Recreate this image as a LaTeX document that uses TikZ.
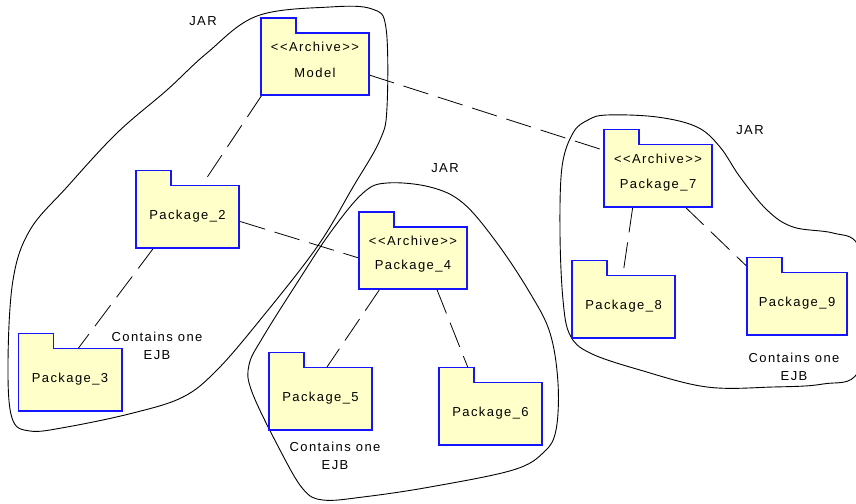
\documentclass[tikz,border=0pt]{standalone}
\usepackage{fontspec}
\setmainfont{Liberation Sans}[Ligatures=TeXOff, LetterSpace=11]
\usetikzlibrary{calc,backgrounds}
\definecolor{pkgfill}{RGB}{255,255,202}
\definecolor{pkgblue}{RGB}{20,20,255}
\tikzset{
  body/.style={draw=none, fill=none, inner sep=0pt, minimum width=#1, minimum height=62pt},
  body/.default=103pt,
  pkgline/.style={draw=pkgblue, fill=pkgfill, line width=1.6pt, line join=miter},
  txt/.style={inner sep=0pt},
  blob/.style={draw=black, line width=0.9pt},
  dep/.style={draw=black, line width=0.8pt, dash pattern=on 26pt off 10pt},
}
\newcommand\folderpath[1]{%
  \draw[pkgline] (#1.south west) -- ($(#1.north west)+(0,-15)$) -- ++(35,0) -- ++(0,15) -- (#1.north east) -- (#1.south east) -- cycle;}
\begin{document}
\begin{tikzpicture}[x=1pt, y=-1pt, font=\fontsize{13}{15}\selectfont]
\useasboundingbox (0,0) rectangle (856,503);
\clip (0,0) rectangle (856,503);

% package bodies
\node[body=108pt] (model) at (315,64) {};
\node[txt] (modela) at (315,47) {<<Archive>>};
\node[txt] (modeln) at (315,73) {Model};
\node[body] (p2) at (187.5,216.5) {Package\_2};
\node[body] (p3) at (70,379.5) {Package\_3};
\node[body=108pt] (p7) at (658,175.5) {};
\node[txt] (p7a) at (658,159) {<<Archive>>};
\node[txt] (p7n) at (658,185) {Package\_7};
\node[body=108pt] (p4) at (413,258) {};
\node[txt] (p4a) at (413,241) {<<Archive>>};
\node[txt] (p4n) at (413,266) {Package\_4};
\node[body] (p5) at (320.5,398.5) {Package\_5};
\node[body] (p6) at (490.5,413.5) {Package\_6};
\node[body] (p8) at (623.5,306.5) {Package\_8};
\node[body=100pt] (p9) at (797,303.5) {Package\_9};

% labels
\node[txt] (jar1) at (203,21) {JAR};
\node[txt] (jar2) at (445,168) {JAR};
\node[txt] (jar3) at (750,130) {JAR};
\node[txt, align=center] (ejb1) at (157,346) {Contains one\\[3pt]EJB};
\node[txt, align=center] (ejb2) at (335,456) {Contains one\\[3pt]EJB};
\node[txt, align=center] (ejb3) at (794,367) {Contains one\\[3pt]EJB};

\begin{pgfonlayer}{background}
% JAR outlines
\draw[blob] plot[smooth cycle, tension=0.6] coordinates {
  (257,16) (330,7) (372,9) (386,28) (387,107) (380,140) (353,187) (317,247)
  (260,320) (217,370) (183,397) (133,413) (67,427) (30,431) (12,418)
  (8,363) (13,280) (30,230) (67,187) (117,133) (167,90) (207,53)};
\draw[blob] plot[smooth cycle, tension=0.6] coordinates {
  (387,183) (430,187) (463,203) (497,243) (530,293) (550,333) (558,383)
  (556,430) (544,452) (513,470) (430,487) (363,497) (323,500) (303,489)
  (280,450) (252,392) (249,365) (263,337) (297,283) (330,233) (363,193)};
\draw[blob] plot[smooth cycle, tension=0.6] coordinates {
  (607,115) (657,117) (697,127) (720,147) (740,177) (767,210) (793,227)
  (833,233) (858,245) (870,300) (858,372) (823,384) (773,387) (707,387)
  (640,370) (590,353) (570,335) (563,300) (560,233) (562,167) (573,133) (588,120)};

% dependencies
\draw[dep] ($(model.south west)+(1,0)$) -- ($(p2.north west)+(66,0)$);
\draw[dep] ($(p2.south west)+(18,0)$) -- ($(p3.north west)+(60,0)$);
\draw[dep] ($(p2.east)+(1,5)$) -- (p4.west);
\draw[dep] ($(model.east)+(0,11)$) -- ($(p7.north west)+(0,6)$);
\draw[dep] ($(p4.south west)+(21,0)$) -- ($(p5.north west)+(58,0)$);
\draw[dep] ($(p4.south west)+(78,0)$) -- ($(p6.north west)+(29,-15)$);
\draw[dep] ($(p7.south west)+(29,0)$) -- ($(p8.north west)+(51,0)$);
\draw[dep] ($(p7.south west)+(81,0)$) -- ($(p9.north west)+(0,-6)$);

% folders
\folderpath{model}
\folderpath{p2}
\folderpath{p3}
\folderpath{p7}
\folderpath{p4}
\folderpath{p5}
\folderpath{p6}
\folderpath{p8}
\folderpath{p9}
\end{pgfonlayer}
\end{tikzpicture}
\end{document}
